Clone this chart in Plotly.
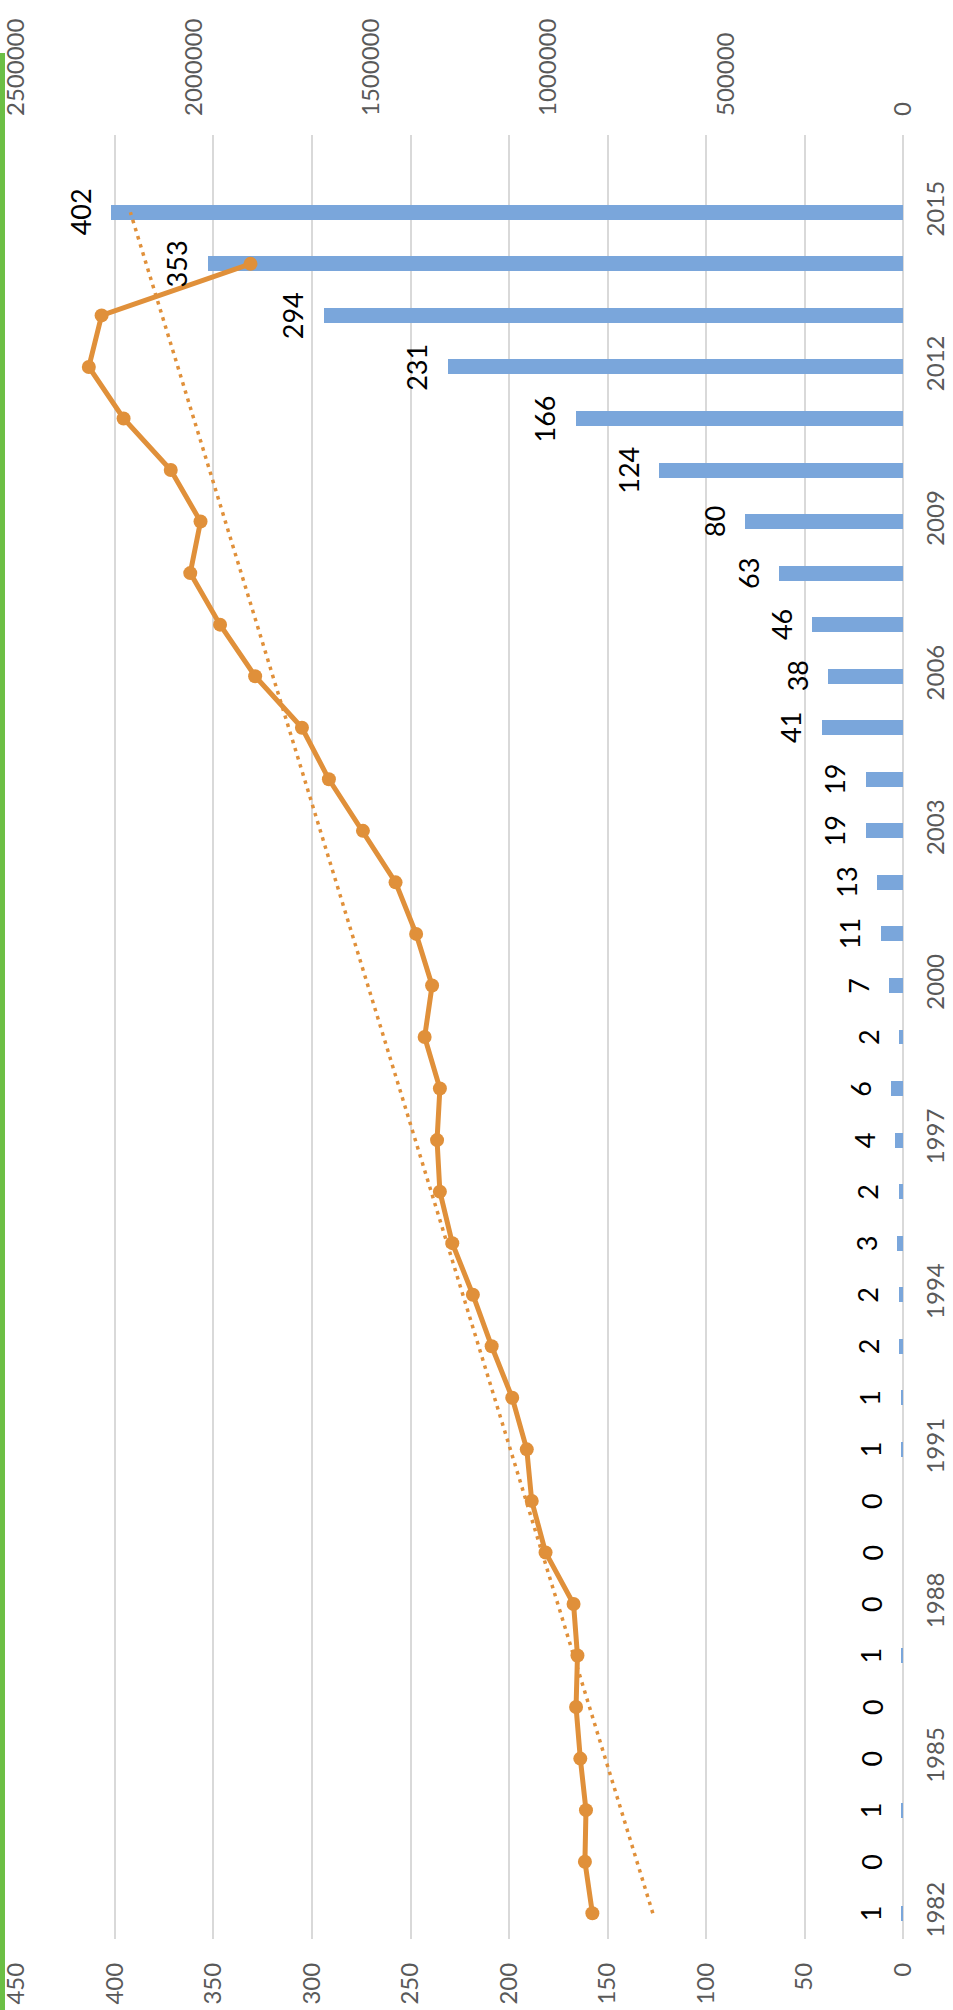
import numpy as np
import plotly.graph_objects as go

# Years on the category axis (2016 slot left empty at the top)
years = list(range(1982, 2016))
tick_years = [1982, 1985, 1988, 1991, 1994, 1997, 2000, 2003, 2006, 2009, 2012, 2015]

# Yearly counts (bars, primary axis)
counts = [1, 0, 1, 0, 0, 1, 0, 0, 0, 1,
          1, 2, 2, 3, 2, 4, 6, 2, 7, 11,
          13, 19, 19, 41, 38, 46, 63, 80, 124, 166,
          231, 294, 353, 402]

# Cumulative totals (line, secondary axis), 1982-2014
line_years = list(range(1982, 2015))
totals = [876000, 897000, 894000, 910000, 922000, 918000, 929000, 1008000, 1047000, 1061000,
          1102000, 1160000, 1213000, 1271000, 1306000, 1314000, 1306000, 1349000, 1328000, 1373000,
          1431000, 1523000, 1619000, 1695000, 1827000, 1926000, 2010000, 1981000, 2065000, 2198000,
          2296000, 2260000, 1840000]

primary_ticks = list(range(0, 451, 50))
secondary_ticks = [0, 500000, 1000000, 1500000, 2000000, 2500000]

BAR = "#7AA6DB"
ORANGE = "#E0903A"
GRID = "#D9D9D9"
TICK = "#595959"
FONT = "Lato"

# Axis maxima (a hair of headroom so the outer gridline is drawn)
PRIMARY_MAX = 450.25
SECONDARY_MAX = 2500000 * PRIMARY_MAX / 450

# Linear trend of the totals, extended through 2015
coef = np.polyfit(line_years, totals, 1)
trend_years = [years[0], years[-1]]
trend_vals = list(np.polyval(coef, trend_years))

fig = go.Figure()

fig.add_trace(go.Bar(
    x=counts, y=years, orientation="h", width=0.29,
    marker=dict(color=BAR, line=dict(width=0)),
    xaxis="x", yaxis="y", showlegend=False,
))

fig.add_trace(go.Scatter(
    x=trend_vals, y=trend_years, mode="lines",
    line=dict(color=ORANGE, width=3.5, dash="3.5px,5px"),
    xaxis="x2", yaxis="y", showlegend=False,
))

fig.add_trace(go.Scatter(
    x=totals, y=line_years, mode="lines+markers",
    line=dict(color=ORANGE, width=5),
    marker=dict(color=ORANGE, size=14),
    xaxis="x2", yaxis="y", showlegend=False,
))

# Value labels beside each bar end
annotations = []
for yr, v in zip(years, counts):
    annotations.append(dict(
        x=v, y=yr, xref="x", yref="y", text=str(v), showarrow=False,
        textangle=-90, xanchor="center", yanchor="middle", xshift=-31,
        font=dict(family=FONT, size=27, color="#000000"),
    ))

L, R, T, B = 16, 50, 135, 71
W, H = 953, 2010
pw, ph = W - L - R, H - T - B

shapes = [dict(
    type="rect", xref="paper", yref="paper",
    x0=-L / pw, x1=(5 - L) / pw,
    y0=(H - B - H) / ph, y1=(H - B - 53) / ph,
    fillcolor="#6CBF45", line=dict(width=0), layer="above",
)]

fig.update_layout(
    width=W, height=H,
    margin=dict(l=L, r=R, t=T, b=B, pad=0),
    paper_bgcolor="white", plot_bgcolor="white",
    bargap=0,
    annotations=annotations,
    shapes=shapes,
    xaxis=dict(
        range=[PRIMARY_MAX, 0], tickvals=primary_ticks, tickangle=-90,
        showgrid=True, gridcolor=GRID, gridwidth=1.5,
        zeroline=True, zerolinecolor=GRID, zerolinewidth=1.5,
        showline=False, ticks="", ticklabelstandoff=18,
        automargin=False, ticklabeloverflow="allow",
        tickfont=dict(family=FONT, size=24, color=TICK),
    ),
    xaxis2=dict(
        overlaying="x", side="top", range=[SECONDARY_MAX, 0],
        tickvals=secondary_ticks, tickformat="d", tickangle=-90,
        showgrid=False, zeroline=False, showline=False, ticks="",
        ticklabelstandoff=18, automargin=False, ticklabeloverflow="allow",
        tickfont=dict(family=FONT, size=24, color=TICK),
    ),
    yaxis=dict(
        range=[1981.5, 2016.5], tickvals=tick_years, side="right",
        tickangle=-90, showgrid=False, zeroline=False, showline=False,
        ticks="", ticklabelstandoff=16, automargin=False,
        ticklabeloverflow="allow",
        tickfont=dict(family=FONT, size=24, color=TICK),
    ),
)

fig.write_html("out.html")
